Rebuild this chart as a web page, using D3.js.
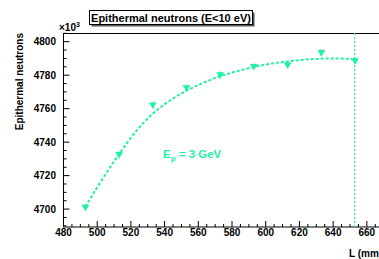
<!DOCTYPE html>
<html>
<head>
<meta charset="utf-8">
<script src="https://cdn.jsdelivr.net/npm/d3@7"></script>
<style>
  body { margin: 0; background: #fff; }
  text { font-family: "Liberation Sans", Arial, sans-serif; font-weight: bold; }
</style>
</head>
<body>
<div id="chart"></div>
<script>
var w = 379;
var h = 259;
var green = "#22f0a2";

// measured points
var lengths = [493, 513, 533, 553, 573, 593, 613, 633, 653];
var counts = [4701.2, 4732.8, 4762.4, 4772.6, 4780.4, 4785.4, 4786.4, 4793.7, 4788.8];
var errs = [1.8, 1.8, 1.8, 1.8, 1.8, 1.8, 1.8, 1.8, 1.8];

// fit curve
var fitL = [493, 503, 513, 523, 533, 543, 553, 563, 573, 583, 593, 603, 613, 623, 633, 643, 653];
var fitN = [4701.5, 4718, 4733, 4747, 4757.5, 4765, 4771, 4775.5, 4779.5, 4782.5, 4785, 4787, 4788.3, 4789.3, 4790, 4790, 4789.6];

var xTicks = [480, 500, 520, 540, 560, 580, 600, 620, 640, 660];
var yTicks = [4700, 4720, 4740, 4760, 4780, 4800];
var cutL = 652.7;

var svg = d3.select("#chart")
    .append("svg")
    .attr("width", w)
    .attr("height", h);

var x = d3.scaleLinear().domain([480, 670]).range([63.5, 383.7]);
var y = d3.scaleLinear().domain([4689.3, 4805.2]).range([227, 33]);

// frame
svg.append("rect")
    .attr("x", 63.5).attr("y", 33.5)
    .attr("width", 330).attr("height", 193.5)
    .attr("fill", "none").attr("stroke", "#000").attr("stroke-width", 1);

// x axis ticks
var xMinor = d3.range(480, 670, 5);
svg.selectAll(".xt")
    .data(xMinor)
    .enter()
    .append("line")
    .attr("x1", function (d) { return x(d); })
    .attr("x2", function (d) { return x(d); })
    .attr("y1", 227)
    .attr("y2", function (d) { return d % 20 === 0 ? 221 : 224; })
    .attr("stroke", "#000");

svg.selectAll(".xl")
    .data(xTicks)
    .enter()
    .append("text")
    .text(function (d) { return d; })
    .attr("x", function (d) { return x(d); })
    .attr("y", 236)
    .attr("font-size", "10px")
    .attr("text-anchor", "middle");

// y axis ticks
var yMinor = d3.range(4690, 4806, 5);
svg.selectAll(".yt")
    .data(yMinor)
    .enter()
    .append("line")
    .attr("x1", 63.5)
    .attr("x2", function (d) { return d % 20 === 0 ? 69.5 : 66.5; })
    .attr("y1", function (d) { return y(d); })
    .attr("y2", function (d) { return y(d); })
    .attr("stroke", "#000");

svg.selectAll(".yl")
    .data(yTicks)
    .enter()
    .append("text")
    .text(function (d) { return d; })
    .attr("x", 56)
    .attr("y", function (d) { return y(d) + 3.5; })
    .attr("font-size", "10px")
    .attr("text-anchor", "end");

svg.append("text")
    .attr("x", 59).attr("y", 31)
    .attr("font-size", "10px")
    .attr("font-weight", "normal")
    .html("×10<tspan dy='-4' font-size='7px'>3</tspan>");

// axis titles
svg.append("text")
    .text("Epithermal neutrons")
    .attr("transform", "translate(23,33) rotate(-90)")
    .attr("font-size", "10px")
    .attr("text-anchor", "end");

svg.append("text")
    .text("L (mm)")
    .attr("x", 349).attr("y", 257)
    .attr("font-size", "10px");

// cut line
svg.append("line")
    .attr("x1", x(cutL)).attr("x2", x(cutL))
    .attr("y1", 33).attr("y2", 227)
    .attr("stroke", green).attr("stroke-width", 1.2)
    .attr("stroke-dasharray", "2,2");

// fit
var line = d3.line()
    .x(function (d, i) { return x(fitL[i]); })
    .y(function (d) { return y(d); })
    .curve(d3.curveBasis);

svg.append("path")
    .datum(fitN)
    .attr("d", line)
    .attr("fill", "none")
    .attr("stroke", green)
    .attr("stroke-width", 2)
    .attr("stroke-dasharray", "3,2");

// error bars
svg.selectAll(".eb")
    .data(counts)
    .enter()
    .append("line")
    .attr("x1", function (d, i) { return x(lengths[i]); })
    .attr("x2", function (d, i) { return x(lengths[i]); })
    .attr("y1", function (d, i) { return y(d - errs[i]); })
    .attr("y2", function (d, i) { return y(d + errs[i]); })
    .attr("stroke", green).attr("stroke-width", 1);

// markers
var tri = d3.symbol().type(d3.symbolTriangle).size(26);
svg.selectAll(".pt")
    .data(counts)
    .enter()
    .append("path")
    .attr("d", tri)
    .attr("transform", function (d, i) {
        return "translate(" + x(lengths[i]) + "," + y(d) + ") rotate(180)";
    })
    .attr("fill", green);

// label
svg.append("text")
    .attr("x", 163).attr("y", 158)
    .attr("font-size", "11.5px")
    .attr("fill", green)
    .html("E<tspan dy='3' font-size='8px'>p</tspan><tspan dy='-3'> = 3 GeV</tspan>");

// title box
svg.append("rect")
    .attr("x", 91.5).attr("y", 12.5)
    .attr("width", 163).attr("height", 14)
    .attr("fill", "#555");
svg.append("rect")
    .attr("x", 89.5).attr("y", 10.5)
    .attr("width", 163).attr("height", 14)
    .attr("fill", "#fff").attr("stroke", "#000");
svg.append("text")
    .text("Epithermal neutrons (E<10 eV)")
    .attr("x", 171).attr("y", 21.5)
    .attr("font-size", "11px")
    .attr("text-anchor", "middle");
</script>
</body>
</html>
